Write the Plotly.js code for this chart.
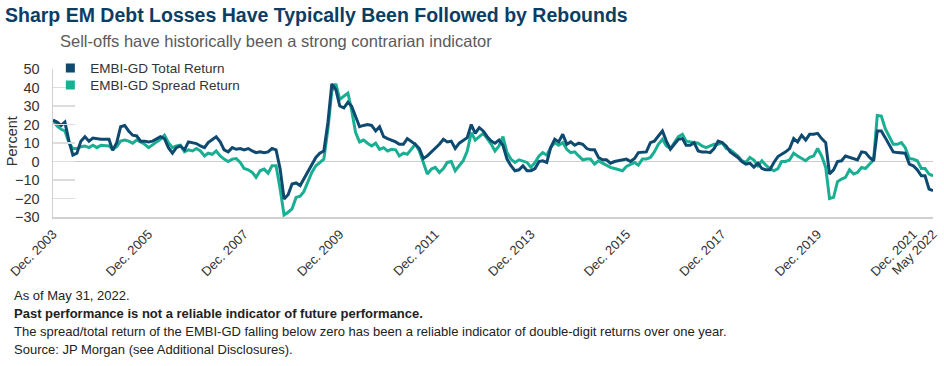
<!DOCTYPE html>
<html>
<head>
<meta charset="utf-8">
<script src="https://cdn.plot.ly/plotly-3.0.1.min.js"></script>
<style>
html,body{margin:0;padding:0;background:#fff;}
#chart{width:944px;height:366px;}
</style>
</head>
<body>
<div id="chart"></div>
<script>
// Monthly series starting Dec. 2003, ending May 2022 (222 months)
var startYear = 2003;
var startMonth = 12;

var totalReturn = [
  22.4, 21.3, 19.5, 21.3, 11, 3.4, 4.5, 11, 13.4, 11,
  12.7, 12.2, 12, 12, 12, 6, 10.2, 18.8, 19.5, 16.5,
  14.2, 13.8, 11, 11, 10.6, 11, 12.4, 13.4, 12.4, 7.5,
  4.5, 7.5, 8.4, 6.3, 10.6, 10.2, 9.7, 8.4, 7.5, 10.2,
  12, 13.3, 10.6, 6.3, 5.2, 7.5, 6.6, 7, 6.3, 7,
  5.7, 4.8, 5.2, 4.8, 5.2, 7, 6.3, -4, -20.3, -18,
  -12.2, -11.6, -13, -9.5, -5, -1.4, 2.2, 4.5, 5.7, 21,
  42, 38.9, 30, 29, 32, 30, 24.2, 18.8, 19.5, 20,
  19.5, 16.5, 18.8, 13.4, 12.4, 11.6, 10.6, 9.3, 9.3, 12.4,
  11, 9.3, 7, 1.6, 3, 5.2, 7, 9.3, 12, 10.6,
  11, 7, 9.9, 11.6, 12.9, 20, 15.2, 18.3, 16.5, 13.4,
  11, 9.9, 11.6, 8.8, 1.3, -2.3, -5, -4.5, -2.3, -5,
  -5, -3.8, 0, 0.4, -0.5, 7.5, 12, 10.6, 14.7, 9.3,
  10.6, 8.8, 9.9, 9.3, 7, 6.3, 6.3, 2.2, 0.9, 0.9,
  -0.9, 0, 0.4, 0.9, 1.3, 0, 1.6, 4.8, 4.8, 5.2,
  10.2, 11, 13.8, 16.5, 11, 6.6, 9.3, 12, 12.4, 8.8,
  8.8, 10.2, 5.7, 5.2, 5.2, 4.8, 7, 11, 10.2, 8.4,
  5.2, 3.9, 2.2, 0, -1.4, -0.9, -3, -0.9, -3.8, -4.5,
  -4.5, -0.5, 2.7, 3.9, 5.2, 7, 12.4, 10.6, 14.2, 11.6,
  14.7, 14.7, 15.2, 12.4, 10.2, -6.8, -4.5, 0, 0.4, 3,
  2.2, 1.3, 0.9, 5.2, 4.8, 2.2, 0.4, 16.5, 16.5, 12.9,
  9.3, 5.2, 4.8, 4.8, 4.5, -1.4, -2.3, -4.5, -7.7, -7.7,
  -14.9, -15.8
];

var spreadReturn = [
  22.4, 19.2, 17.4, 16.5, 10.2, 7, 7, 8, 8.4, 7.5,
  8.8, 7.5, 8.8, 8.4, 8.4, 6.6, 8, 11, 11.6, 11,
  9.9, 11.6, 10.6, 9.3, 7.5, 9.3, 10.6, 12, 14.2, 10.2,
  7.5, 8.4, 8.8, 5.2, 6.3, 5.7, 7, 5.7, 3, 4.5,
  3.9, 5.7, 3, 1.3, 0, 1.3, 1.6, -0.5, -3.8, -4.5,
  -5.9, -8.6, -5, -4.1, -6.3, -2.3, -2.3, -14.9, -28.9, -27.4,
  -25.6, -19.4, -18.8, -16.3, -11.3, -5.9, -2.3, -0.5, 1.3, 17.4,
  38, 42, 33.5, 35.3, 37, 28, 15.6, 10.6, 11.6, 9.9,
  8.4, 9.9, 6.6, 7.5, 5.7, 6.6, 6.3, 3, 4.5, 3.9,
  7, 9.3, 5.7, -0.5, -6.8, -4.1, -3.2, -5.9, -3.8, -0.5,
  0, -5, -2.3, 0.4, 5.7, 15.6, 11.6, 13.4, 15.2, 12.4,
  9.3, 5.7, 8.4, 13.4, 4.8, 1.3, -0.5, 0.9, 0, -0.5,
  -3.2, -0.5, 3, 4.8, 3.4, 7.5, 10.2, 8.8, 10.2, 6.6,
  4.8, 5.2, 3, 0.9, 1.3, 1.3, -1.4, 0.4, -0.9, -2,
  -3.2, -3.8, -4.5, -5, -2.7, -1.4, -0.5, -2, 1.3, 1.3,
  2.2, 5.2, 9.3, 12, 8.4, 7, 10.2, 13.4, 14.7, 11,
  10.6, 10.2, 9.9, 8.4, 7.5, 8.4, 9.3, 9.3, 10.2, 7,
  6.3, 4.8, 3, 0.4, -0.5, 2.2, 0.8, -2.3, 0.4, -2,
  -3.8, -5, -3.8, 0, 0, 0.9, 4.5, 3, 1.6, 0.4,
  2.2, 3, 7, 3, -3.2, -20, -19.4, -10.9, -9.5, -8.6,
  -4.5, -6.8, -5.9, -3.2, -3.8, -1.4, 0.9, 24.9, 24.6, 17.7,
  13.4, 9.3, 9.3, 10.2, 7.5, 1.6, 1.3, 0.4, -3.8, -3.8,
  -6.8, -7.7
];

var seriesNames = ['EMBI-GD Total Return', 'EMBI-GD Spread Return'];
var tickDates = ['2003-12-01','2005-12-01','2007-12-01','2009-12-01','2011-12-01',
                 '2013-12-01','2015-12-01','2017-12-01','2019-12-01','2021-12-01','2022-05-01'];
var tickLabels = ['Dec. 2003','Dec. 2005','Dec. 2007','Dec. 2009','Dec. 2011',
                  'Dec. 2013','Dec. 2015','Dec. 2017','Dec. 2019','Dec. 2021','May 2022'];
var yTicks = [50, 40, 30, 20, 10, 0, -10, -20, -30];

var titleText = 'Sharp EM Debt Losses Have Typically Been Followed by Rebounds';
var subtitleText = 'Sell-offs have historically been a strong contrarian indicator';
var yTitleText = 'Percent';
var notes = [
  'As of May 31, 2022.',
  '<b>Past performance is not a reliable indicator of future performance.</b>',
  'The spread/total return of the EMBI-GD falling below zero has been a reliable indicator of double-digit returns over one year.',
  'Source: JP Morgan (see Additional Disclosures).'
];

// build month dates
var dates = [];
for (var i = 0; i < totalReturn.length; i++) {
  var mIdx = (startMonth - 1) + i;
  var yy = startYear + Math.floor(mIdx / 12);
  var mm = (mIdx % 12) + 1;
  dates.push(yy + '-' + (mm < 10 ? '0' + mm : mm) + '-01');
}

var navy = '#0e4a70';
var teal = '#1aaf92';
var FONT = 'Liberation Sans, Arial, sans-serif';

var traces = [
  {x: dates, y: spreadReturn, type: 'scatter', mode: 'lines', name: seriesNames[1],
   line: {color: teal, width: 3}, showlegend: false, hoverinfo: 'x+y'},
  {x: dates, y: totalReturn, type: 'scatter', mode: 'lines', name: seriesNames[0],
   line: {color: navy, width: 3}, showlegend: false, hoverinfo: 'x+y'},
  {x: [null], y: [null], type: 'scatter', mode: 'markers', name: seriesNames[0],
   marker: {symbol: 'square', size: 9, color: navy}, showlegend: true, legend: 'legend'},
  {x: [null], y: [null], type: 'scatter', mode: 'markers', name: seriesNames[1],
   marker: {symbol: 'square', size: 9, color: teal}, showlegend: true, legend: 'legend2'}
];

var annotations = [
  {text: subtitleText, xref: 'paper', yref: 'paper', x: 0.0057, y: 1.19,
   xanchor: 'left', yanchor: 'middle', showarrow: false,
   font: {family: FONT, size: 16.5, color: '#5a5a5a'}},
  {text: yTitleText, xref: 'paper', yref: 'paper', x: -0.047, y: 0.51,
   xanchor: 'center', yanchor: 'middle', textangle: -90, showarrow: false,
   font: {family: FONT, size: 14.5, color: '#333'}}
];
var noteY = [-0.533, -0.654, -0.775, -0.897];
for (var k = 0; k < notes.length; k++) {
  annotations.push({text: notes[k], xref: 'paper', yref: 'paper', x: -0.0466, y: noteY[k],
    xanchor: 'left', yanchor: 'middle', showarrow: false,
    font: {family: FONT, size: 13, color: '#222'}});
}

var legendCommon = {xanchor: 'left', yanchor: 'middle', orientation: 'v',
  bgcolor: 'rgba(0,0,0,0)', borderwidth: 0,
  font: {family: FONT, size: 13.5, color: '#333'}};

var layout = {
  width: 944, height: 366,
  margin: {l: 53, r: 11, t: 69, b: 149, pad: 0},
  paper_bgcolor: '#fff', plot_bgcolor: '#fff',
  font: {family: FONT, size: 13, color: '#333'},
  title: {text: '<b>' + titleText + '</b>', x: 0.0053, xref: 'container', xanchor: 'left',
          y: 0.958, yref: 'container', yanchor: 'middle',
          font: {family: FONT, size: 19.5, color: '#0c3d63'}},
  showlegend: true,
  legend: Object.assign({x: -0.003, y: 1.005}, legendCommon),
  legend2: Object.assign({x: -0.003, y: 0.89}, legendCommon),
  xaxis: {type: 'date', range: ['2003-12-01', '2022-05-01'],
          tickmode: 'array', tickvals: tickDates, ticktext: tickLabels, tickangle: -45,
          showgrid: false, zeroline: false, showline: true, linecolor: '#d0d0d0', linewidth: 1.5,
          ticks: '', ticklabelstandoff: 3,
          tickfont: {family: FONT, size: 13, color: '#333'}, fixedrange: true},
  yaxis: {range: [-30, 50], tickmode: 'array', tickvals: yTicks,
          showgrid: false, zeroline: true, zerolinecolor: '#cccccc', zerolinewidth: 1.5,
          showline: true, linecolor: '#d0d0d0', linewidth: 1.5,
          ticks: 'inside', ticklen: 22, tickcolor: '#dddddd', tickwidth: 1.5,
          ticklabelstandoff: 9,
          tickfont: {family: FONT, size: 14.5, color: '#333'},
          fixedrange: true},
  annotations: annotations
};

Plotly.newPlot('chart', traces, layout, {displayModeBar: false, staticPlot: true});
</script>
</body>
</html>
